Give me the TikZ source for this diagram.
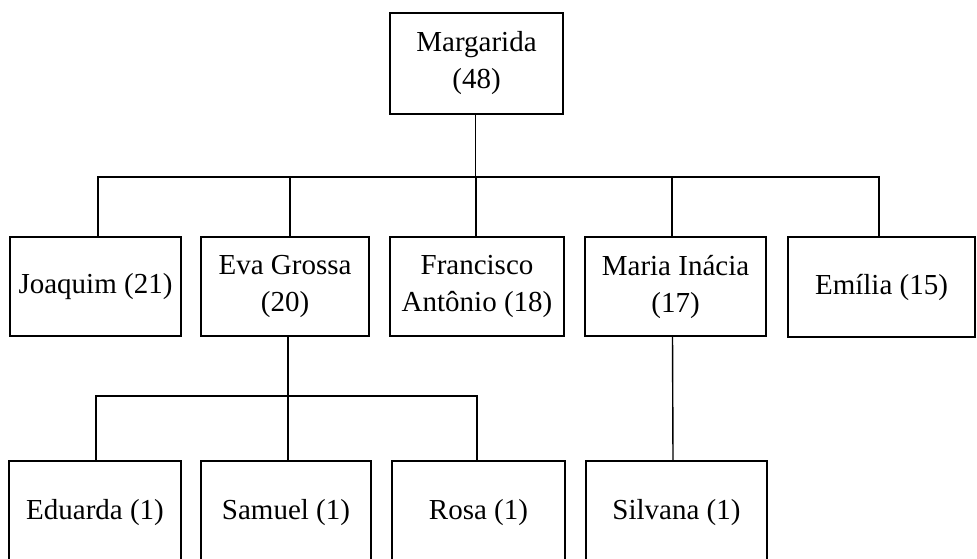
\documentclass[tikz,border=0pt]{standalone}
\usepackage{fontspec}
\setmainfont{Liberation Serif}
\newcommand{\famnode}[6]{%
  \node[famb, minimum width={(#4-#2)*0.5pt}, minimum height={(#5-#3)*0.5pt}]
    (#1) at ({(#2+#4)/2},{(#3+#5)/2}) {#6};}
\begin{document}
\begin{tikzpicture}[x=0.5pt,y=-0.5pt,
  famb/.style={draw, rectangle, line width=0.7pt, inner sep=0pt, align=center,
    font=\fontsize{14.5}{18.5}\selectfont},
  link/.style={line width=0.7pt}]
\useasboundingbox (0,0) rectangle (977,558);
\clip (0,0) rectangle (977,558);
% generation 1
\famnode{M}{390}{13}{563}{114}{Margarida\\(48)}
% generation 2
\famnode{J}{10}{237}{181}{336}{Joaquim (21)}
\famnode{EG}{201}{237}{369}{336}{Eva Grossa\\(20)}
\famnode{FA}{390}{237}{564}{336}{Francisco\\Antônio (18)}
\famnode{MI}{585}{237}{766}{336}{Maria Inácia\\(17)}
\famnode{EM}{788}{237}{975}{337}{Emília (15)}
% generation 3 (bottom edges fall below the page)
\famnode{ED}{9}{461}{181}{564}{Eduarda (1)}
\famnode{SA}{201}{461}{371}{564}{Samuel (1)}
\famnode{RO}{392}{461}{565}{564}{Rosa (1)}
\famnode{SI}{586}{461}{767}{564}{Silvana (1)}
% bus coordinates
\coordinate (busA) at (0,177);
\coordinate (busB) at (0,396);
% connectors generation 1 -> 2
\draw[link] ([xshift=-0.5pt]M.south) -- ([xshift=-0.5pt]M.south |- busA);
\draw[link] ([xshift=1.25pt]J.north) |- ([xshift=-1.25pt]EM.north |- busA)
  -- ([xshift=-1.25pt]EM.north);
\draw[link] ([xshift=2.5pt]EG.north) -- ([xshift=2.5pt]EG.north |- busA);
\draw[link] ([xshift=-0.5pt]FA.north) -- ([xshift=-0.5pt]FA.north |- busA);
\draw[link] ([xshift=-1.75pt]MI.north) -- ([xshift=-1.75pt]MI.north |- busA);
% connectors generation 2 -> 3
\draw[link] ([xshift=1.5pt]EG.south) -- ([xshift=1.5pt]EG.south |- busB);
\draw[link] ([xshift=0.5pt]ED.north) |- ([xshift=-0.75pt]RO.north |- busB)
  -- ([xshift=-0.75pt]RO.north);
\draw[link] ([xshift=1pt]SA.north) -- ([xshift=1pt]SA.north |- busB);
\draw[link] ([xshift=-1.5pt]MI.south) -- ([xshift=-1.75pt]SI.north);
\end{tikzpicture}
\end{document}
